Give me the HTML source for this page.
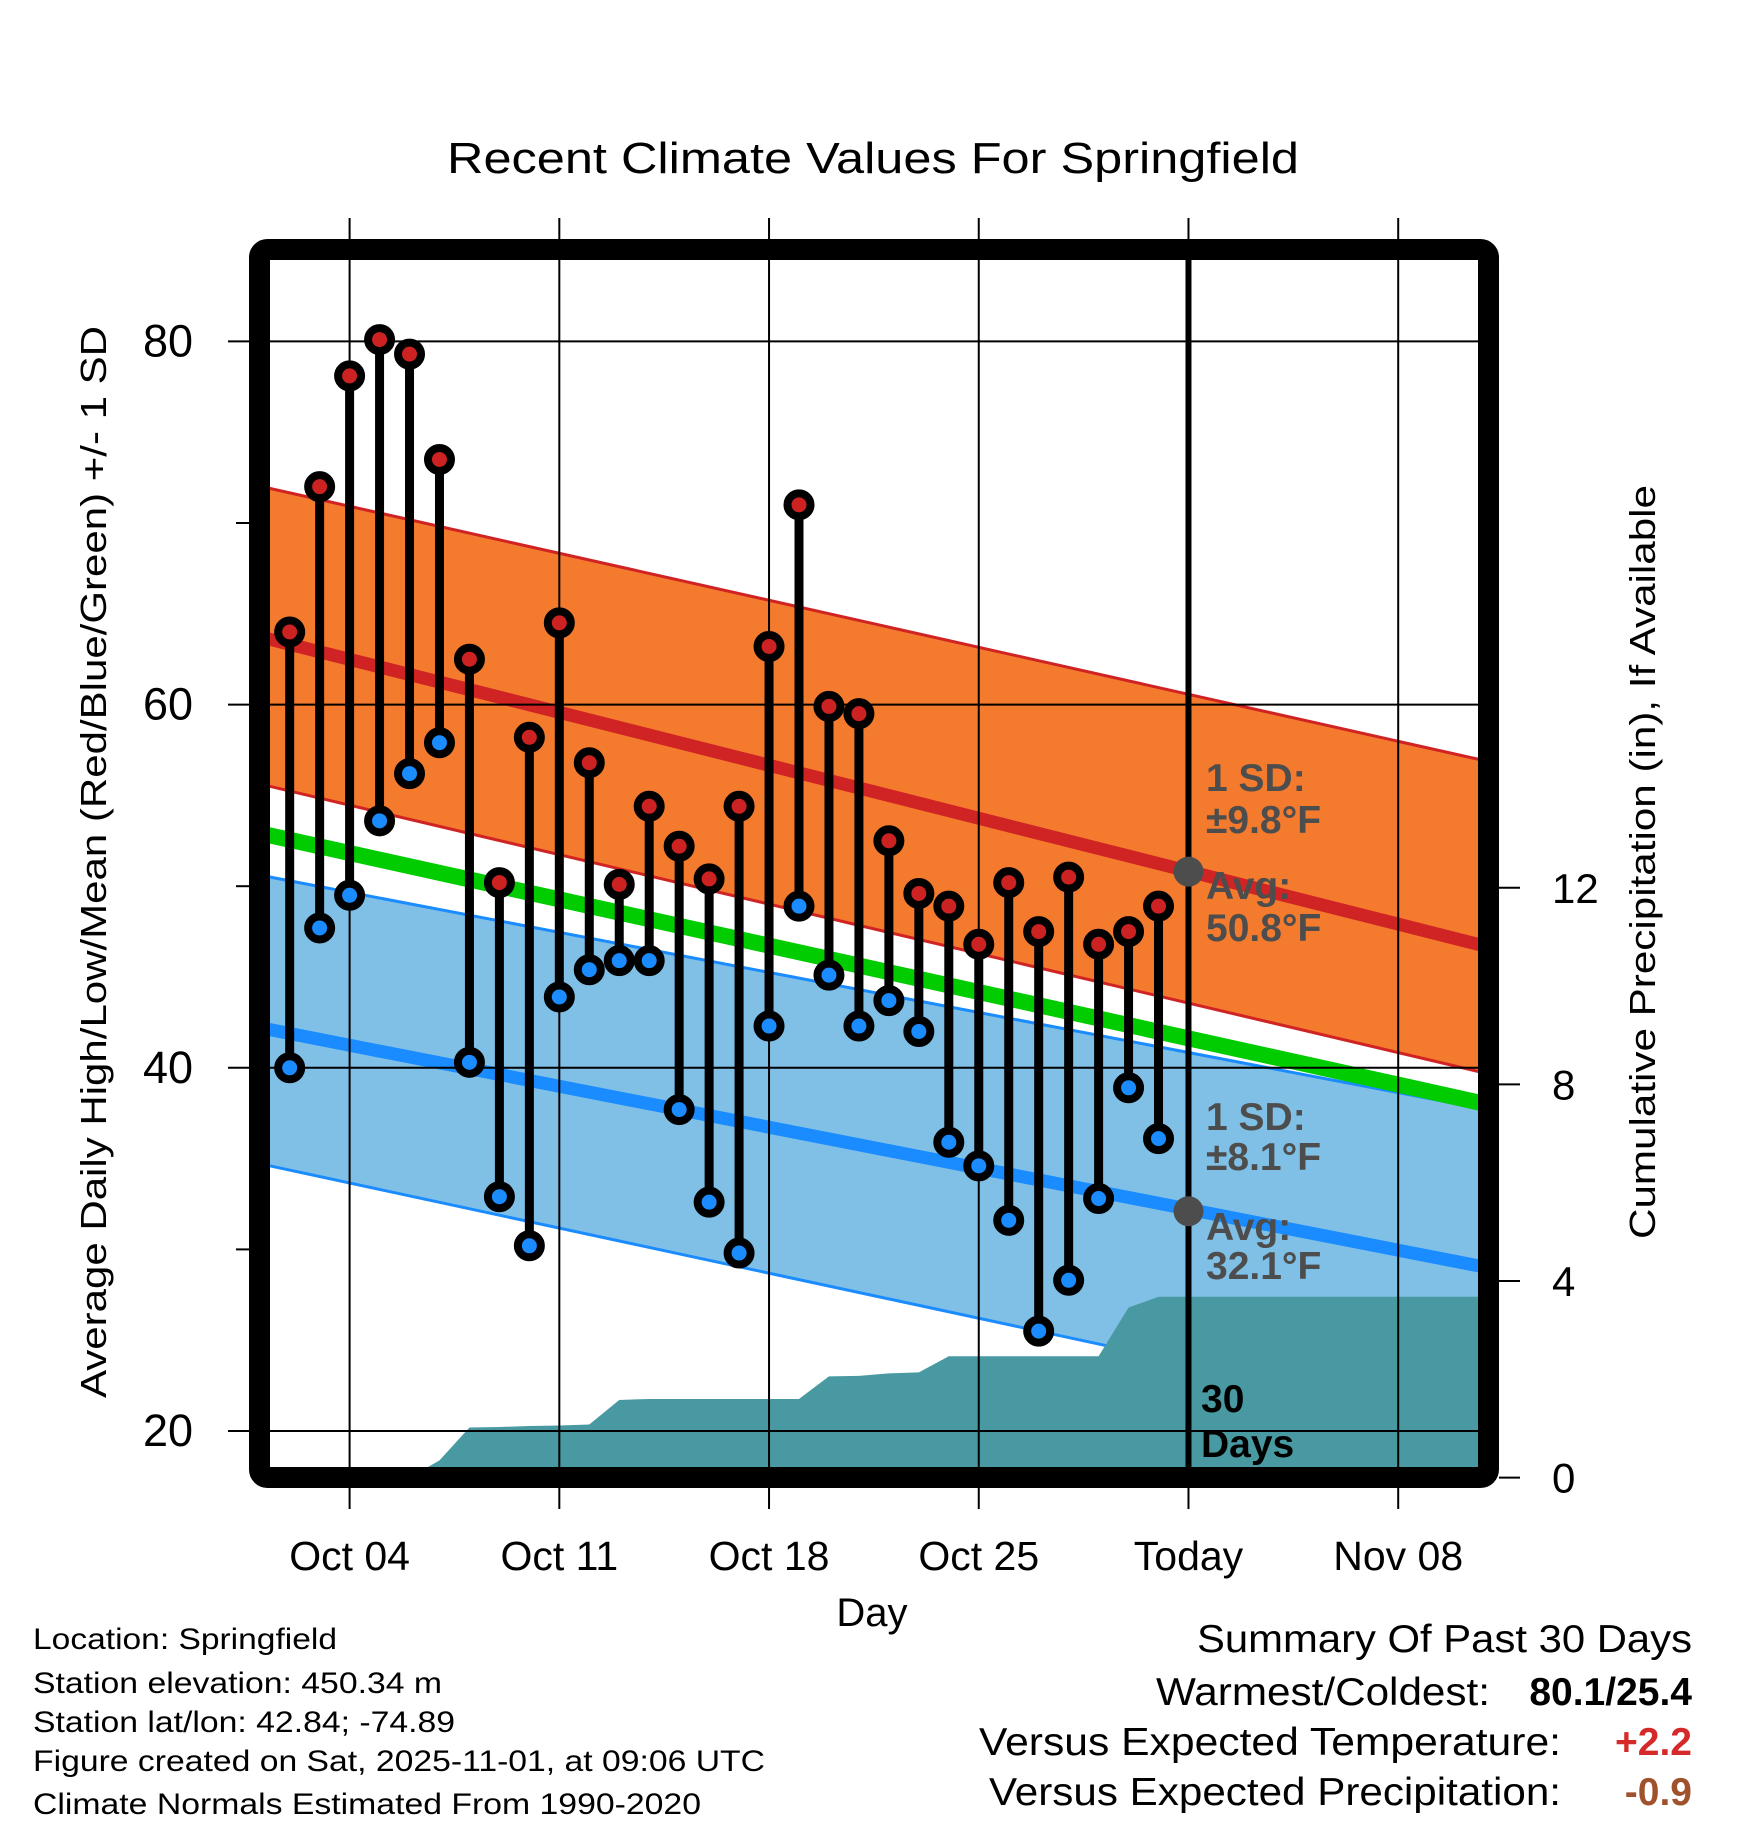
<!DOCTYPE html>
<html><head><meta charset="utf-8"><style>
html,body{margin:0;padding:0;background:#fff;}
svg{display:block;font-family:"Liberation Sans",Arial,sans-serif;}
</style></head><body>
<svg id="chart" width="1748" height="1828" viewBox="0 0 1748 1828" xmlns="http://www.w3.org/2000/svg">
<text x="873" y="173" font-size="44" text-anchor="middle" textLength="852" lengthAdjust="spacingAndGlyphs">Recent Climate Values For Springfield</text>
<g id="plot"></g>
<text transform="translate(106,862) rotate(-90)" font-size="36" text-anchor="middle" textLength="1072" lengthAdjust="spacingAndGlyphs">Average Daily High/Low/Mean (Red/Blue/Green) +/- 1 SD</text>
<text transform="translate(1655,862) rotate(-90)" font-size="36" text-anchor="middle" textLength="754" lengthAdjust="spacingAndGlyphs">Cumulative Precipitation (in), If Available</text>
<text x="872" y="1626" font-size="40" text-anchor="middle">Day</text>
<g font-size="30">
<text x="33" y="1649" textLength="304" lengthAdjust="spacingAndGlyphs">Location: Springfield</text>
<text x="33" y="1693" textLength="409" lengthAdjust="spacingAndGlyphs">Station elevation: 450.34 m</text>
<text x="33" y="1732" textLength="422" lengthAdjust="spacingAndGlyphs">Station lat/lon: 42.84; -74.89</text>
<text x="33" y="1771" textLength="732" lengthAdjust="spacingAndGlyphs">Figure created on Sat, 2025-11-01, at 09:06 UTC</text>
<text x="33" y="1814" textLength="668" lengthAdjust="spacingAndGlyphs">Climate Normals Estimated From 1990-2020</text>
</g>
<g font-size="39">
<text x="1692" y="1652" text-anchor="end" textLength="495" lengthAdjust="spacingAndGlyphs">Summary Of Past 30 Days</text>
<text x="1490" y="1705" text-anchor="end" textLength="334" lengthAdjust="spacingAndGlyphs">Warmest/Coldest:</text>
<text x="1692" y="1705" text-anchor="end" font-weight="bold">80.1/25.4</text>
<text x="1561" y="1755" text-anchor="end" textLength="582" lengthAdjust="spacingAndGlyphs">Versus Expected Temperature:</text>
<text x="1692" y="1755" text-anchor="end" font-weight="bold" fill="#d62a2a">+2.2</text>
<text x="1561" y="1805" text-anchor="end" textLength="572" lengthAdjust="spacingAndGlyphs">Versus Expected Precipitation:</text>
<text x="1692" y="1805" text-anchor="end" font-weight="bold" fill="#a0522d">-0.9</text>
</g>
</svg>
<script>
const days = [2,3,4,5,6,7,8,9,10,11,12,13,14,15,16,17,18,19,20,21,22,23,24,25,26,27,28,29,30,31];
const highs = [64.0,72.0,78.1,80.1,79.3,73.5,62.5,50.2,58.2,64.5,56.8,50.1,54.4,52.2,50.4,54.4,63.2,71.0,59.9,59.5,52.5,49.6,48.9,46.8,50.2,47.5,50.5,46.8,47.5,48.9];
const lows = [40.0,47.7,49.5,53.6,56.2,57.9,40.3,32.9,30.2,43.9,45.4,45.9,45.9,37.7,32.6,29.8,42.3,48.9,45.1,42.3,43.7,42.0,35.9,34.6,31.6,25.5,28.3,32.8,38.9,36.1];
const precip = [0,0,0,0,0,0.35,1.02,1.03,1.05,1.06,1.08,1.58,1.6,1.6,1.6,1.6,1.6,1.6,2.06,2.07,2.12,2.14,2.47,2.47,2.47,2.47,2.47,2.47,3.46,3.68];
const normalDays = [1,42];
const normHighUpper = [72.03,56.87];
const normHighAvg = [63.74,46.66];
const normHighLower = [55.63,39.67];
const normMean = [52.92,37.98];
const normLowUpper = [50.61,37.69];
const normLowAvg = [42.21,28.99];
const normLowLower = [34.72,20.18];
const yTicks = [20,40,60,80];
const yMinor = [30,50,70];
const pTicks = [0,4,8,12];
const xTickDays = [4,11,18,25,32,39];
const xTickLabels = ['Oct 04','Oct 11','Oct 18','Oct 25','Today','Nov 08'];
const todayDay = 32;
const todayHighAvg = 50.8, todayLowAvg = 32.1;

const NS='http://www.w3.org/2000/svg';
const X0=270, X1=1478, Y0=260, Y1=1468;
const xs = d => 349.6 + (d-4)*29.96;
const ys = v => 341.4 + (80-v)*18.16;
const yp = v => 1477.6 - v*49.15;
const g = document.getElementById('plot');
function mk(tag, attrs, parent){const e=document.createElementNS(NS,tag);for(const k in attrs)e.setAttribute(k,attrs[k]);(parent||g).appendChild(e);return e;}

const defs=mk('defs',{});
const cp=mk('clipPath',{id:'clip'},defs);
mk('rect',{x:X0,y:Y0,width:X1-X0,height:Y1-Y0},cp);
const pg=mk('g',{'clip-path':'url(#clip)'});



function band(up,lo,fill,name){
  const p=`M${xs(normalDays[0])},${ys(up[0])} L${xs(normalDays[1])},${ys(up[1])} L${xs(normalDays[1])},${ys(lo[1])} L${xs(normalDays[0])},${ys(lo[0])} Z`;
  const e=mk('path',{d:p,fill:fill},pg);
  
  
}
function nline(arr,color,w,name){
  const e=mk('line',{x1:xs(normalDays[0]),y1:ys(arr[0]),x2:xs(normalDays[1]),y2:ys(arr[1]),stroke:color,'stroke-width':w},pg);
  
  
}
band(normLowUpper,normLowLower,'#80c0e6','low-sd-band');
nline(normLowUpper,'#1a8cff',3,'low-sd-upper-line');
nline(normLowLower,'#1a8cff',3,'low-sd-lower-line');
band(normHighUpper,normHighLower,'#f47a2e','high-sd-band');
nline(normHighUpper,'#d02323',3,'high-sd-upper-line');
nline(normHighLower,'#d02323',3,'high-sd-lower-line');
nline(normMean,'#00cc00',16,'mean-normal-line');
nline(normHighAvg,'#d02323',13,'high-normal-line');
nline(normLowAvg,'#1a8cff',13,'low-normal-line');

xTickDays.forEach(d=>{
  const e=mk('line',{x1:xs(d),x2:xs(d),y1:218,y2:1509,stroke:'#000','stroke-width':2});
  
  
});
yTicks.forEach(v=>{
  const e=mk('line',{x1:228,x2:X1,y1:ys(v),y2:ys(v),stroke:'#000','stroke-width':2});
  
  
});
yMinor.forEach(v=>{
  const e=mk('line',{x1:236,x2:252,y1:ys(v),y2:ys(v),stroke:'#000','stroke-width':2});
  
  
});

let pd=`M${xs(days[0])},${yp(0)}`;
days.forEach((d,i)=>{pd+=` L${xs(d)},${yp(precip[i])}`;});
pd+=` L${X1+5},${yp(precip[precip.length-1])} L${X1+5},${yp(0)+5} L${xs(days[0])},${yp(0)+5} Z`;
const pa=mk('path',{d:pd,fill:'#4899a2'},pg);



days.forEach((d,i)=>{
  const x=xs(d);
  const s=mk('line',{x1:x,x2:x,y1:ys(highs[i]),y2:ys(lows[i]),stroke:'#000','stroke-width':9});
  
  
});
days.forEach((d,i)=>{
  const x=xs(d);
  const h=mk('circle',{cx:x,cy:ys(highs[i]),r:11.5,fill:'#cc2222',stroke:'#000','stroke-width':8});
  
  
  const l=mk('circle',{cx:x,cy:ys(lows[i]),r:11.5,fill:'#1a8cff',stroke:'#000','stroke-width':8});
  
  
});

const tl=mk('line',{x1:xs(todayDay),x2:xs(todayDay),y1:Y0,y2:Y1,stroke:'#000','stroke-width':6});


const gd1=mk('circle',{cx:xs(todayDay),cy:ys(todayHighAvg),r:15,fill:'#4d4d4d'});


const gd2=mk('circle',{cx:xs(todayDay),cy:ys(todayLowAvg),r:15,fill:'#4d4d4d'});



const ann=[['1 SD:',791,'high-sd-label'],['\u00b19.8\u00b0F',833,'high-sd-value'],['Avg:',899,'high-avg-label'],['50.8\u00b0F',941,'high-avg-value'],['1 SD:',1130,'low-sd-label'],['\u00b18.1\u00b0F',1170,'low-sd-value'],['Avg:',1240,'low-avg-label'],['32.1\u00b0F',1279,'low-avg-value']];
ann.forEach(a=>{
  const t=mk('text',{x:1206,y:a[1],'font-size':39,'font-weight':'bold',fill:'#4d4d4d'});
  t.textContent=a[0];
  
  
});
const d1=mk('text',{x:1201,y:1412,'font-size':39,'font-weight':'bold',fill:'#000'});
d1.textContent='30';


const d2=mk('text',{x:1201,y:1457,'font-size':39,'font-weight':'bold',fill:'#000'});
d2.textContent='Days';



const fr=mk('rect',{x:259.5,y:249.5,width:1229,height:1228,rx:8,fill:'none',stroke:'#000','stroke-width':21});



pTicks.forEach(v=>{
  const e=mk('line',{x1:1499,x2:1520,y1:yp(v),y2:yp(v),stroke:'#000','stroke-width':2});
  
  
  const t=mk('text',{x:1552,y:yp(v)+15,'font-size':42});
  t.textContent=v;
  
  
});
yTicks.forEach(v=>{
  const t=mk('text',{x:193,y:ys(v)+15,'font-size':45,'text-anchor':'end'});
  t.textContent=v;
  
  
});
xTickDays.forEach((d,i)=>{
  const t=mk('text',{x:xs(d),y:1570,'font-size':41,'text-anchor':'middle'});
  t.textContent=xTickLabels[i];
  
  
});
</script>
</body></html>
